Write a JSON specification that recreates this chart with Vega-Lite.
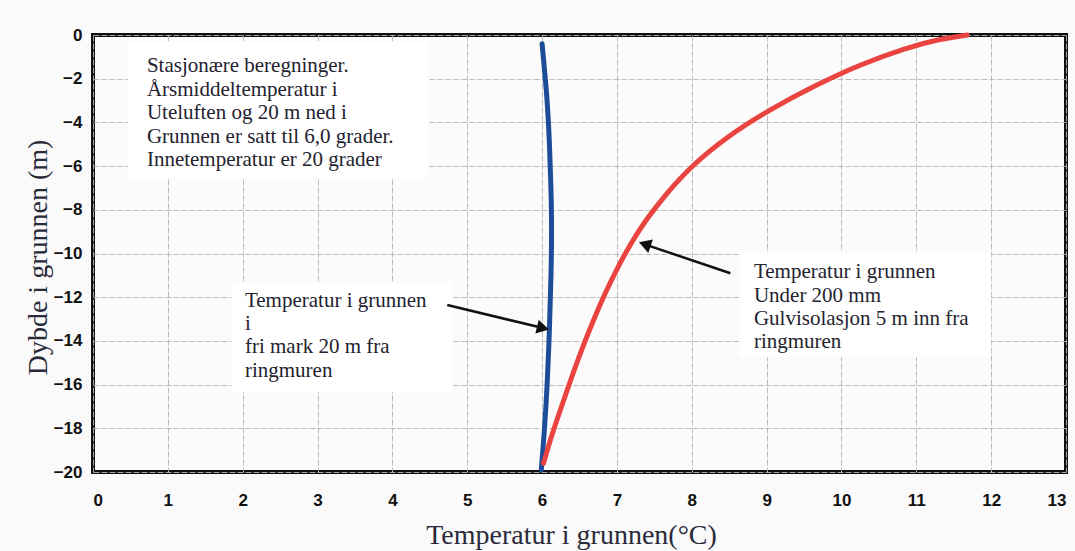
{
  "$schema": "https://vega.github.io/schema/vega-lite/v6.json",
  "width": 973,
  "height": 437,
  "autosize": "none",
  "padding": {"left": 93, "top": 35, "right": 9, "bottom": 79},
  "background": "#fafafa",
  "config": {
    "view": {"stroke": "#111111", "strokeWidth": 4, "fill": "#fbfbfb"},
    "axis": {
      "domain": false,
      "ticks": false,
      "grid": true,
      "gridColor": "#b4b4b4",
      "gridWidth": 0.9,
      "gridDash": [6, 2],
      "labelFont": "Liberation Sans",
      "labelFontWeight": "bold",
      "labelFontSize": 17,
      "labelColor": "#111111",
      "titleFont": "Liberation Serif",
      "titleFontWeight": "normal",
      "titleFontSize": 28,
      "titleColor": "#2b2a3a"
    }
  },
  "datasets": {
    "curves": [
      {"series": "fri mark", "temp": 6.0, "depth": -0.4},
      {"series": "fri mark", "temp": 6.03, "depth": -1.5},
      {"series": "fri mark", "temp": 6.07, "depth": -3.0},
      {"series": "fri mark", "temp": 6.1, "depth": -5.0},
      {"series": "fri mark", "temp": 6.12, "depth": -7.0},
      {"series": "fri mark", "temp": 6.13, "depth": -9.0},
      {"series": "fri mark", "temp": 6.12, "depth": -11.0},
      {"series": "fri mark", "temp": 6.1, "depth": -13.4},
      {"series": "fri mark", "temp": 6.07, "depth": -16.0},
      {"series": "fri mark", "temp": 6.03, "depth": -18.2},
      {"series": "fri mark", "temp": 5.99, "depth": -19.9},
      {"series": "under gulv", "temp": 6.02, "depth": -19.6},
      {"series": "under gulv", "temp": 6.12, "depth": -18.4},
      {"series": "under gulv", "temp": 6.26, "depth": -17.0},
      {"series": "under gulv", "temp": 6.4, "depth": -15.6},
      {"series": "under gulv", "temp": 6.54, "depth": -14.3},
      {"series": "under gulv", "temp": 6.68, "depth": -13.1},
      {"series": "under gulv", "temp": 6.83, "depth": -11.9},
      {"series": "under gulv", "temp": 7.0, "depth": -10.7},
      {"series": "under gulv", "temp": 7.19, "depth": -9.5},
      {"series": "under gulv", "temp": 7.4, "depth": -8.4},
      {"series": "under gulv", "temp": 7.65, "depth": -7.3},
      {"series": "under gulv", "temp": 7.99, "depth": -6.0},
      {"series": "under gulv", "temp": 8.49, "depth": -4.6},
      {"series": "under gulv", "temp": 9.05, "depth": -3.4},
      {"series": "under gulv", "temp": 9.65, "depth": -2.3},
      {"series": "under gulv", "temp": 10.25, "depth": -1.35},
      {"series": "under gulv", "temp": 10.85, "depth": -0.6},
      {"series": "under gulv", "temp": 11.32, "depth": -0.18},
      {"series": "under gulv", "temp": 11.68, "depth": 0.0}
    ],
    "boxes": [
      {"x": 0.47, "x2": 4.49, "y": -0.3, "y2": -6.55},
      {"x": 1.85, "x2": 4.79, "y": -11.35, "y2": -16.34},
      {"x": 8.63, "x2": 12.0, "y": -9.93, "y2": -14.74}
    ],
    "notes": [
      {"x": 0.72, "y": -0.93, "text": "Stasjonære beregninger.\nÅrsmiddeltemperatur i\nUteluften og 20 m ned i\nGrunnen er satt til 6,0 grader.\nInnetemperatur er 20 grader"},
      {"x": 2.03, "y": -11.65, "text": "Temperatur i grunnen\ni\nfri mark 20 m fra\nringmuren"},
      {"x": 8.83, "y": -10.35, "text": "Temperatur i grunnen\nUnder 200 mm\nGulvisolasjon 5 m inn fra\nringmuren"}
    ],
    "arrows": [
      {"arrow": "fri mark", "x": 4.733, "y": -12.36, "x2": 6.012, "y2": -13.41},
      {"arrow": "under gulv", "x": 8.516, "y": -10.905, "x2": 7.372, "y2": -9.58}
    ]
  },
  "layer": [
    {
      "data": {"name": "boxes"},
      "mark": {"type": "rect", "fill": "#ffffff", "opacity": 0.97},
      "encoding": {
        "x": {"field": "x", "type": "quantitative", "scale": {"domain": [0, 13], "nice": false, "zero": false},
              "axis": {"values": [0,1,2,3,4,5,6,7,8,9,10,11,12,13], "format": "d", "labelPadding": 20,
                       "title": "Temperatur i grunnen(°C)", "titleX": 478, "titleY": 63, "titleBaseline": "middle", "titleAnchor": null}},
        "x2": {"field": "x2"},
        "y": {"field": "y", "type": "quantitative", "scale": {"domain": [-20, 0], "nice": false, "zero": false},
              "axis": {"values": [-20,-18,-16,-14,-12,-10,-8,-6,-4,-2,0], "format": "d", "labelPadding": 11,
                       "title": "Dybde i grunnen (m)", "titleX": -55, "titleY": 222, "titleAngle": -90, "titleBaseline": "middle", "titleAlign": "center"}},
        "y2": {"field": "y2"}
      }
    },
    {
      "data": {"name": "notes"},
      "mark": {"type": "text", "font": "Liberation Serif", "fontSize": 21, "align": "left", "baseline": "top",
               "lineBreak": "\n", "lineHeight": 23.4, "color": "#24222f"},
      "encoding": {
        "x": {"field": "x", "type": "quantitative"},
        "y": {"field": "y", "type": "quantitative"},
        "text": {"field": "text"}
      }
    },
    {
      "data": {"name": "curves"},
      "mark": {"type": "line", "strokeWidth": 5, "interpolate": "basis", "strokeCap": "round"},
      "encoding": {
        "x": {"field": "temp", "type": "quantitative"},
        "y": {"field": "depth", "type": "quantitative"},
        "order": {"field": "depth", "type": "quantitative"},
        "color": {"field": "series", "type": "nominal",
                  "scale": {"domain": ["fri mark", "under gulv"], "range": ["#1d4c98", "#ea4440"]}, "legend": null}
      }
    },
    {
      "data": {"name": "arrows"},
      "mark": {"type": "rule", "color": "#111111", "strokeWidth": 2.5},
      "encoding": {
        "x": {"field": "x", "type": "quantitative"},
        "y": {"field": "y", "type": "quantitative"},
        "x2": {"field": "x2"},
        "y2": {"field": "y2"}
      }
    },
    {
      "data": {"name": "arrows"},
      "transform": [{"filter": "datum.arrow === 'fri mark'"}],
      "mark": {"type": "point", "shape": "triangle-right", "filled": true, "color": "#111111", "opacity": 1, "size": 200, "angle": 13.5},
      "encoding": {
        "x": {"field": "x2", "type": "quantitative"},
        "y": {"field": "y2", "type": "quantitative"}
      }
    },
    {
      "data": {"name": "arrows"},
      "transform": [{"filter": "datum.arrow === 'under gulv'"}],
      "mark": {"type": "point", "shape": "triangle-right", "filled": true, "color": "#111111", "opacity": 1, "size": 200, "angle": 198.7},
      "encoding": {
        "x": {"field": "x2", "type": "quantitative"},
        "y": {"field": "y2", "type": "quantitative"}
      }
    }
  ]
}
